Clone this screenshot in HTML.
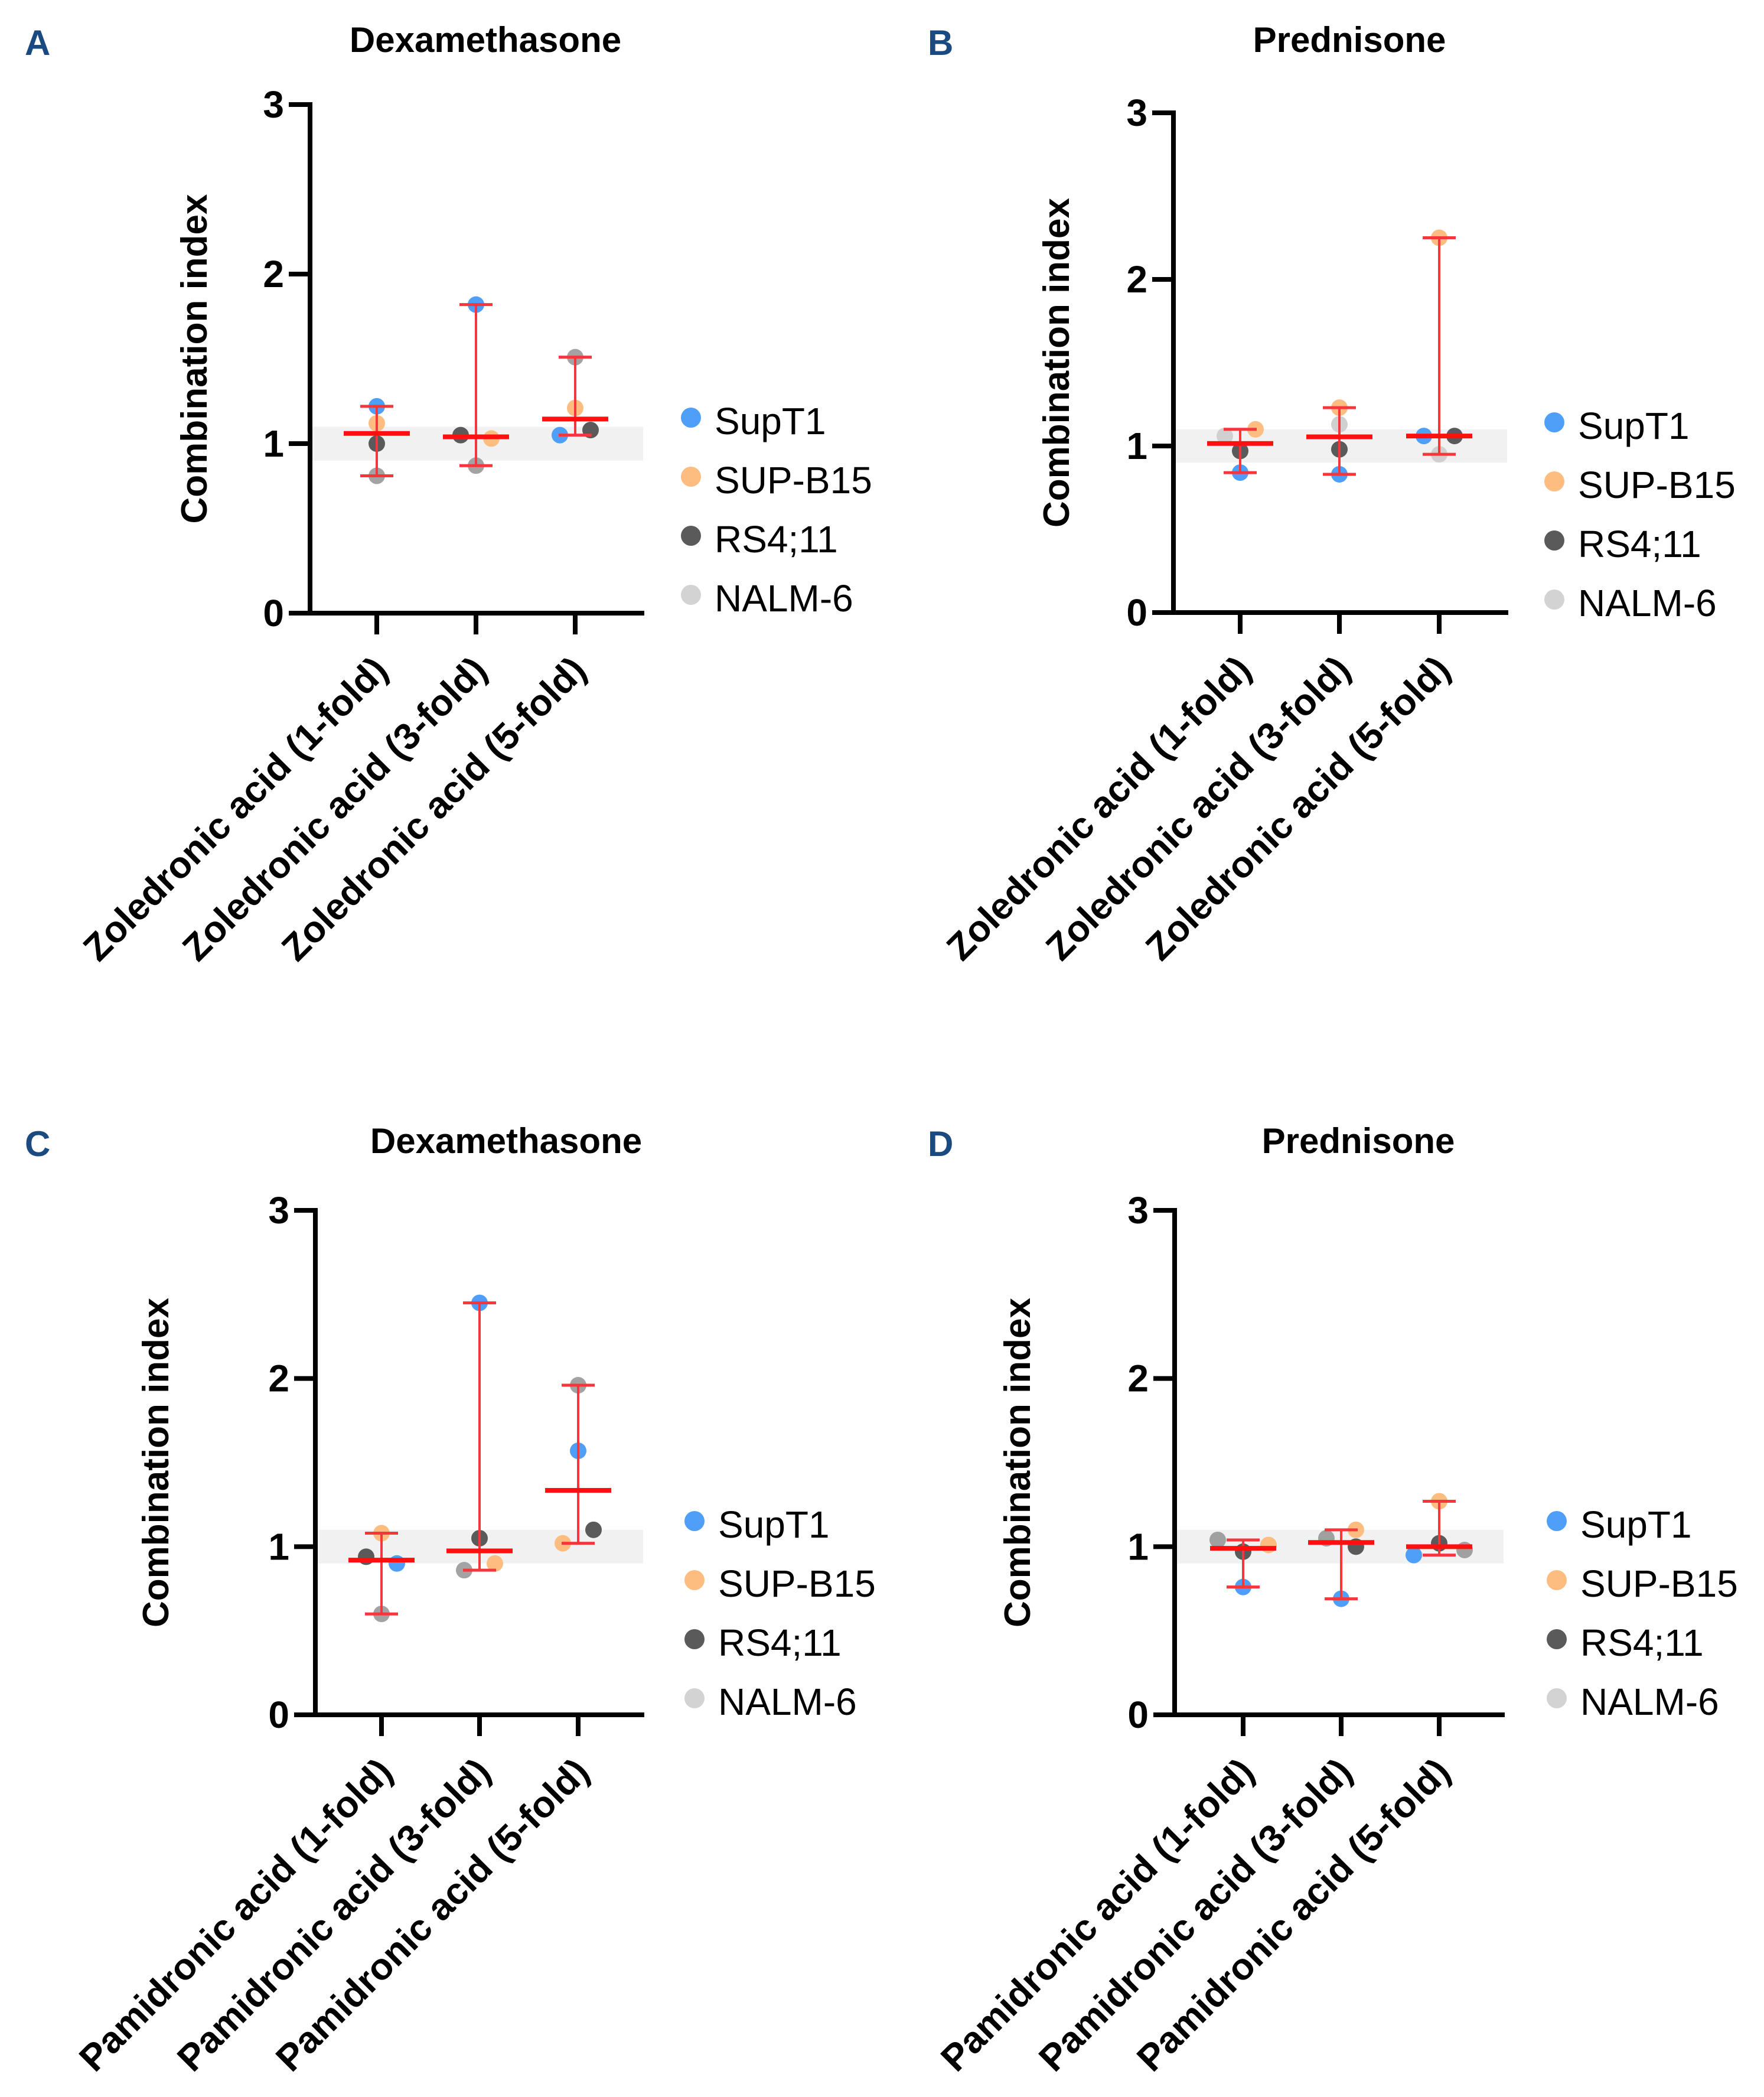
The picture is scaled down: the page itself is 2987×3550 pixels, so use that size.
<!DOCTYPE html>
<html><head><meta charset="utf-8"><style>
html,body{margin:0;padding:0;background:#fff}
svg{display:block}
text{font-family:"Liberation Sans",Arial,sans-serif}
</style></head><body>
<svg id="fig" width="2987" height="3550" viewBox="0 0 2987 3550" xmlns="http://www.w3.org/2000/svg"></svg>
<script>
const seriesNames = ["SupT1","SUP-B15","RS4;11","NALM-6"];
const tickLabels = ["0","1","2","3"];
const catsTop = ["Zoledronic acid (1-fold)","Zoledronic acid (3-fold)","Zoledronic acid (5-fold)"];
const catsBottom = ["Pamidronic acid (1-fold)","Pamidronic acid (3-fold)","Pamidronic acid (5-fold)"];
// values per group: [SupT1, SUP-B15, RS4;11, NALM-6]
const valuesA = [[1.22,1.12,1.00,0.81],[1.82,1.03,1.05,0.87],[1.05,1.21,1.08,1.51]];
const valuesB = [[0.84,1.10,0.97,1.06],[0.83,1.23,0.98,1.13],[1.06,2.25,1.06,0.95]];
const valuesC = [[0.90,1.08,0.94,0.60],[2.45,0.90,1.05,0.86],[1.57,1.02,1.10,1.96]];
const valuesD = [[0.76,1.01,0.97,1.04],[0.69,1.10,1.00,1.05],[0.95,1.27,1.02,0.98]];

const NS="http://www.w3.org/2000/svg";
const svg=document.getElementById('fig');
function el(tag,attrs,parent,txt){const e=document.createElementNS(NS,tag);for(const k in attrs)e.setAttribute(k,attrs[k]);if(txt!==undefined)e.textContent=txt;(parent||svg).appendChild(e);return e;}
function median(a){const s=[...a].sort((x,y)=>x-y);return (s[1]+s[2])/2;}

const colors=["#4f9ef7","#fdbd80","#5a5a5a","#d3d3d3"];
const panels=[
 {letter:"A",title:"Dexamethasone",tcx:822,ax:525,y0:1038,y3:177,xend:1091,cats:[638,806,974],vals:valuesA,labels:catsTop,nalm:"#a3a3a3",
  jit:[[0,0,0,0],[0,26,-26,0],[-26,0,26,0]],yt:350,lx:1170,ly:707},
 {letter:"B",title:"Prednisone",tcx:2285,ax:1987,y0:1037,y3:191,xend:2554,cats:[2100,2268,2437],vals:valuesB,labels:catsTop,nalm:"#d0d0d0",
  jit:[[0,26,0,-26],[0,0,0,0],[-26,0,26,0]],yt:1810,lx:2632,ly:715},
 {letter:"C",title:"Dexamethasone",tcx:857,ax:534,y0:2903,y3:2049,xend:1091,cats:[646,812,979],vals:valuesC,labels:catsBottom,nalm:"#a3a3a3",
  jit:[[26,0,-26,0],[0,26,0,-26],[0,-26,26,0]],yt:285,lx:1176,ly:2575},
 {letter:"D",title:"Prednisone",tcx:2300,ax:1989,y0:2903,y3:2049,xend:2548,cats:[2105,2271,2437],vals:valuesD,labels:catsBottom,nalm:"#a0a0a0",
  jit:[[0,43,0,-43],[0,25,25,-25],[-43,0,0,43]],yt:1744,lx:2636,ly:2575}
];

panels.forEach((p,pi)=>{
  const g=el('g',{});
  
  
  const yS=v=>p.y0-(p.y0-p.y3)*v/3;
  const topY=pi<2?93:1957;
  const L=el('text',{x:p.letter==="A"||p.letter==="C"?42:1571,y:topY,'font-size':60,'font-weight':'bold',fill:'#1a4a80'},g,p.letter);
  
  
  const T=el('text',{x:p.tcx,y:topY-5,'font-size':60,'font-weight':'bold','text-anchor':'middle',fill:'#000'},g,p.title);
  
  
  const band=el('rect',{x:p.ax+4,y:yS(1.1),width:p.xend-p.ax-6,height:yS(0.9)-yS(1.1),fill:'#f1f1f1'},g);
  
  
  const ya=el('line',{x1:p.ax,y1:p.y3-4,x2:p.ax,y2:p.y0+4,stroke:'#000','stroke-width':8},g);
  
  
  tickLabels.forEach((t,i)=>{
    const y=yS(+t);
    el('line',{x1:p.ax-36,y1:y,x2:p.ax,y2:y,stroke:'#000','stroke-width':8},g);
    const tl=el('text',{x:p.ax-44,y:y+22,'font-size':64,'font-weight':'bold','text-anchor':'end'},g,t);
    
    
  });
  const xa=el('line',{x1:p.ax-4,y1:p.y0,x2:p.xend,y2:p.y0,stroke:'#000','stroke-width':8},g);
  
  
  const ymid=(p.y0+p.y3)/2;
  const yt=el('text',{x:p.yt,y:ymid,'font-size':62,'font-weight':'bold','text-anchor':'middle',transform:`rotate(-90 ${p.yt} ${ymid})`},g,'Combination index');
  
  
  p.cats.forEach((cx,ci)=>{
    el('line',{x1:cx,y1:p.y0,x2:cx,y2:p.y0+36,stroke:'#000','stroke-width':8},g);
    const ex=cx+22, ey=p.y0+100;
    const xl=el('text',{x:ex,y:ey,'font-size':63,'font-weight':'bold','text-anchor':'end',transform:`rotate(-45 ${ex} ${ey})`},g,p.labels[ci]);
    
    
    const v=p.vals[ci];
    v.forEach((val,si)=>{
      const c=el('circle',{cx:cx+p.jit[ci][si],cy:yS(val),r:14,fill:si===3?p.nalm:colors[si]},g);
      
      
    });
    const mn=Math.min(...v), mx=Math.max(...v), md=median(v);
    const eg=el('g',{stroke:'#f5363a'},g);
    
    
    el('line',{x1:cx,y1:yS(mx),x2:cx,y2:yS(mn),'stroke-width':4},eg);
    el('line',{x1:cx-28,y1:yS(mx),x2:cx+28,y2:yS(mx),'stroke-width':5},eg);
    el('line',{x1:cx-28,y1:yS(mn),x2:cx+28,y2:yS(mn),'stroke-width':5},eg);
    const ml=el('line',{x1:cx-56,y1:yS(md),x2:cx+56,y2:yS(md),stroke:'#ff1010','stroke-width':8},g);
    
    
  });
  seriesNames.forEach((n,si)=>{
    const y=p.ly+si*100;
    const lg=el('g',{},g);
    
    
    el('circle',{cx:p.lx,cy:y,r:17,fill:colors[si]},lg);
    el('text',{x:p.lx+40,y:y+28,'font-size':64},lg,n);
  });
});
</script>
</body></html>
